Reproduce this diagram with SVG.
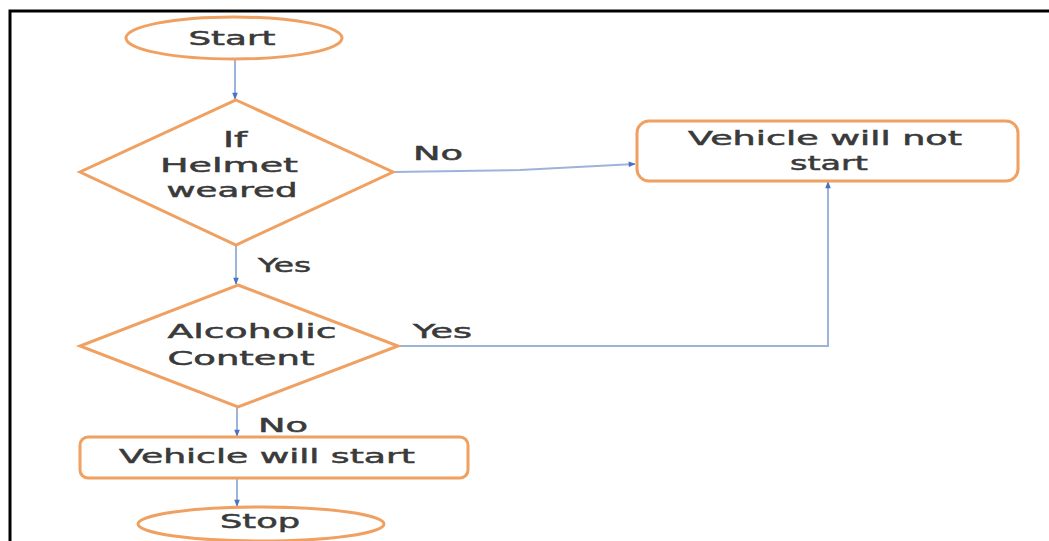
<svg xmlns="http://www.w3.org/2000/svg" width="1049" height="541" viewBox="0 0 1049 541">
<defs>
<style>
.shape{fill:#ffffff;stroke:#F0A060;stroke-width:3}
.t{font-family:"DejaVu Sans","Liberation Sans",sans-serif;font-size:20px;fill:#3a3a3a;stroke:#3a3a3a;stroke-width:0.5;text-anchor:middle}
.l{font-family:"DejaVu Sans","Liberation Sans",sans-serif;font-size:20px;fill:#3a3a3a;stroke:#3a3a3a;stroke-width:0.5}
.c{fill:none;stroke:#9DB4DA;stroke-width:2}
</style>
<marker id="ah" viewBox="0 0 10 10" refX="9" refY="5" markerWidth="8" markerHeight="7" orient="auto" markerUnits="userSpaceOnUse">
<path d="M0,1 L10,5 L0,9 Z" fill="#4472C4"/>
</marker>
</defs>
<rect width="1049" height="541" fill="#ffffff"/>
<path d="M10,541 V11 H1049" fill="none" stroke="#000" stroke-width="3"/>
<g id="connectors">
<path class="c" d="M235,59 V99" marker-end="url(#ah)"/>
<path class="c" d="M236,245 V284" marker-end="url(#ah)"/>
<path class="c" d="M237,407 V436" marker-end="url(#ah)"/>
<path class="c" d="M237,478 V506" marker-end="url(#ah)"/>
<path class="c" d="M393,172 L520,170 L635,164" marker-end="url(#ah)"/>
<path class="c" d="M398,346 H828 V182" marker-end="url(#ah)"/>
<text class="l" x="413" y="160" textLength="50" lengthAdjust="spacingAndGlyphs">No</text>
<text class="l" x="258" y="272" textLength="53" lengthAdjust="spacingAndGlyphs">Yes</text>
<text class="l" x="413" y="338" textLength="59" lengthAdjust="spacingAndGlyphs">Yes</text>
<text class="l" x="258" y="432" textLength="50" lengthAdjust="spacingAndGlyphs">No</text>
</g>
<g id="start">
<ellipse class="shape" cx="234" cy="38" rx="108" ry="21"/>
<text class="t" x="232" y="45" textLength="87" lengthAdjust="spacingAndGlyphs">Start</text>
</g>
<g id="helmet">
<polygon class="shape" points="236,100 393,172 236,245 80,172"/>
<text class="t" x="235" y="147" style="font-size:22px" textLength="24" lengthAdjust="spacingAndGlyphs">If</text>
<text class="t" x="229" y="172" textLength="138" lengthAdjust="spacingAndGlyphs">Helmet</text>
<text class="t" x="232" y="197" textLength="131" lengthAdjust="spacingAndGlyphs">weared</text>
</g>
<g id="alcohol">
<polygon class="shape" points="238,285 398,346 238,407 80,346"/>
<text class="t" x="252" y="338" textLength="169" lengthAdjust="spacingAndGlyphs">Alcoholic</text>
<text class="t" x="241" y="365" textLength="147" lengthAdjust="spacingAndGlyphs">Content</text>
</g>
<g id="willstart">
<rect class="shape" x="80" y="437" width="388" height="41" rx="8"/>
<text class="t" x="267" y="463" textLength="296" lengthAdjust="spacingAndGlyphs">Vehicle will start</text>
</g>
<g id="stop">
<ellipse class="shape" cx="261" cy="524" rx="123" ry="17"/>
<text class="t" x="260" y="528" textLength="80" lengthAdjust="spacingAndGlyphs">Stop</text>
</g>
<g id="willnotstart">
<rect class="shape" x="637" y="121" width="381" height="60" rx="12"/>
<text class="t" x="825" y="145" textLength="274" lengthAdjust="spacingAndGlyphs">Vehicle will not</text>
<text class="t" x="829" y="170" textLength="78" lengthAdjust="spacingAndGlyphs">start</text>
</g>
</svg>
